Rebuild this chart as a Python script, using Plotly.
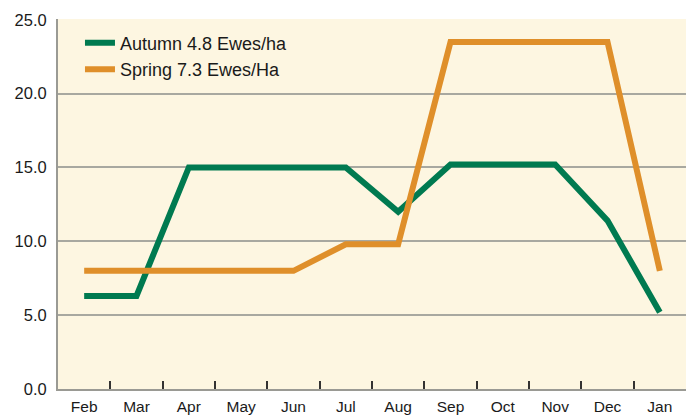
import plotly.graph_objects as go

months = ["Feb", "Mar", "Apr", "May", "Jun", "Jul", "Aug", "Sep", "Oct", "Nov", "Dec", "Jan"]
autumn = [6.3, 6.3, 15.0, 15.0, 15.0, 15.0, 12.0, 15.2, 15.2, 15.2, 11.4, 5.2]
spring = [8.0, 8.0, 8.0, 8.0, 8.0, 9.8, 9.8, 23.5, 23.5, 23.5, 23.5, 8.0]
y_ticks = [0, 5, 10, 15, 20, 25]

fig = go.Figure()
fig.add_trace(go.Scatter(x=months, y=autumn, mode="lines", name="Autumn 4.8 Ewes/ha",
                         line=dict(color="#007a50", width=6)))
fig.add_trace(go.Scatter(x=months, y=spring, mode="lines", name="Spring 7.3 Ewes/Ha",
                         line=dict(color="#df8f2a", width=6)))

fig.update_layout(
    width=691, height=417,
    margin=dict(l=58, r=5, t=19, b=28),
    paper_bgcolor="white",
    plot_bgcolor="#fdf6e1",
    font=dict(family="Liberation Sans, Arial, sans-serif", color="#1a1a1a"),
    showlegend=True,
    legend=dict(x=0.035, y=0.985, xanchor="left", yanchor="top",
                bgcolor="rgba(0,0,0,0)", font=dict(size=18), tracegroupgap=0,
                itemwidth=30),
)
fig.update_xaxes(
    type="category", showgrid=False, showline=True, linecolor="#9a9a94", linewidth=2,
    ticks="inside", tickson="boundaries", ticklen=8, tickwidth=2, tickcolor="#333333",
    tickfont=dict(size=15.5), range=[-0.5, 11.5], ticklabelstandoff=2, automargin=False,
)
fig.update_yaxes(
    range=[0, 25.05], tickvals=y_ticks, tickformat=".1f", showgrid=True,
    gridcolor="#a8a8a0", gridwidth=1.5, showline=True, linecolor="#9a9a94", linewidth=2,
    zeroline=False, tickfont=dict(size=16.5), ticks="", ticklabelstandoff=6,
)

fig.write_html("out.html", config={"displayModeBar": False},
               post_script="document.body.style.margin='0';")
